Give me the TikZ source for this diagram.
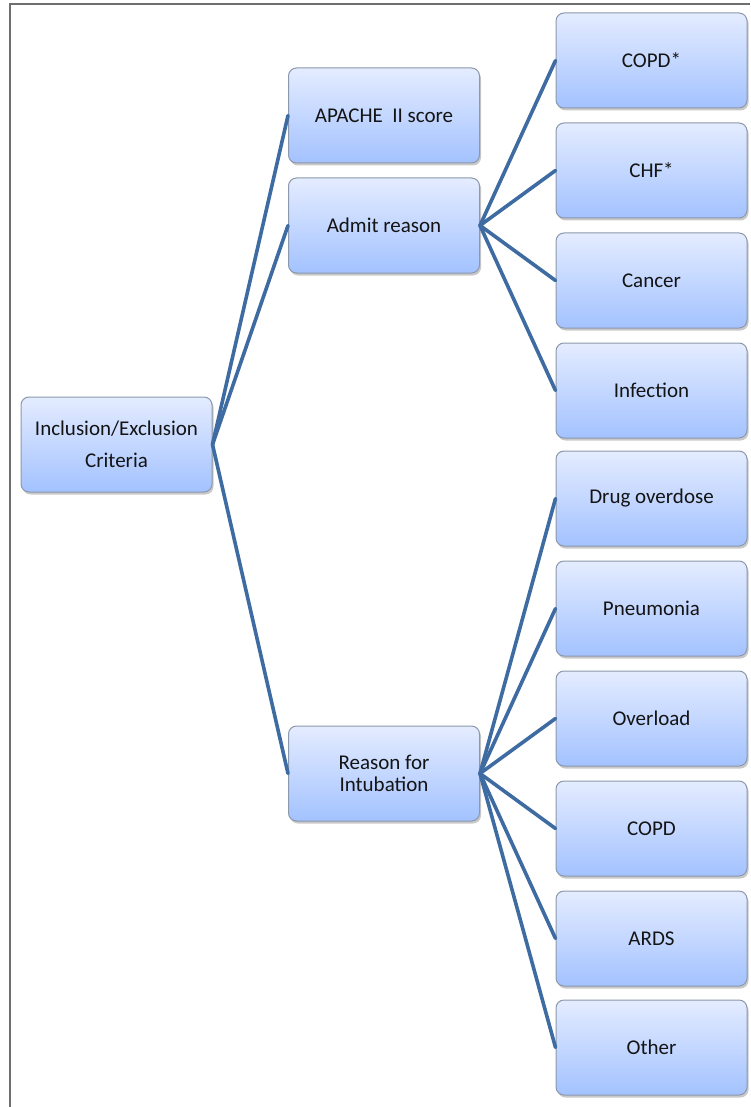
\documentclass[tikz,border=0pt]{standalone}
\usepackage{fontspec}
\setmainfont{Carlito}
\usetikzlibrary{shadows}
\definecolor{edgeblue}{RGB}{62,108,162}
\definecolor{boxtop}{RGB}{228,236,255}
\definecolor{boxbot}{RGB}{163,194,255}
\definecolor{boxline}{RGB}{140,152,172}
\definecolor{framegray}{RGB}{110,110,110}
\definecolor{txt}{RGB}{20,20,20}
\tikzset{
  box/.style={draw=boxline, line width=1pt, rounded corners=8pt,
    top color=boxtop, bottom color=boxbot,
    minimum width=191pt, minimum height=95pt, inner sep=2pt,
    text=txt, align=center, font=\fontsize{21}{26}\selectfont,
    drop shadow={shadow xshift=1.5pt, shadow yshift=-2.5pt, opacity=0.35, fill=black!60}},
  conn/.style={draw=edgeblue, line width=3.6pt, line cap=round}
}
\begin{document}
\begin{tikzpicture}[x=1pt,y=-1pt]
\useasboundingbox (0,0) rectangle (750,1107);
\fill[white] (0,0) rectangle (750,1107);
\draw[framegray, line width=2pt] (9.5,1107) -- (9.5,4.5) -- (750,4.5);

\node[box] (root) at (116.5,444.5) {Inclusion/Exclusion\\[6pt]Criteria};
\node[box] (apache) at (384,115.5) {APACHE\ \ II score};
\node[box] (admit) at (384,225.5) {Admit reason};
\node[box] (intub) at (384,773.5) {Reason for\\[-4pt]Intubation};

\node[box] (copds) at (651.5,60.5) {COPD*};
\node[box] (chf) at (651.5,170.5) {CHF*};
\node[box] (cancer) at (651.5,280.5) {Cancer};
\node[box] (infect) at (651.5,390.5) {Infection};

\node[box] (drug) at (651.5,498.5) {Drug overdose};
\node[box] (pneu) at (651.5,608.5) {Pneumonia};
\node[box] (over) at (651.5,718.5) {Overload};
\node[box] (copd) at (651.5,828.5) {COPD};
\node[box] (ards) at (651.5,938.5) {ARDS};
\node[box] (other) at (651.5,1047.5) {Other};

\foreach \c in {apache,admit,intub} \draw[conn] (root.east) -- (\c.west);
\foreach \c in {copds,chf,cancer,infect} \draw[conn] (admit.east) -- (\c.west);
\foreach \c in {drug,pneu,over,copd,ards,other} \draw[conn] (intub.east) -- (\c.west);
\end{tikzpicture}
\end{document}
